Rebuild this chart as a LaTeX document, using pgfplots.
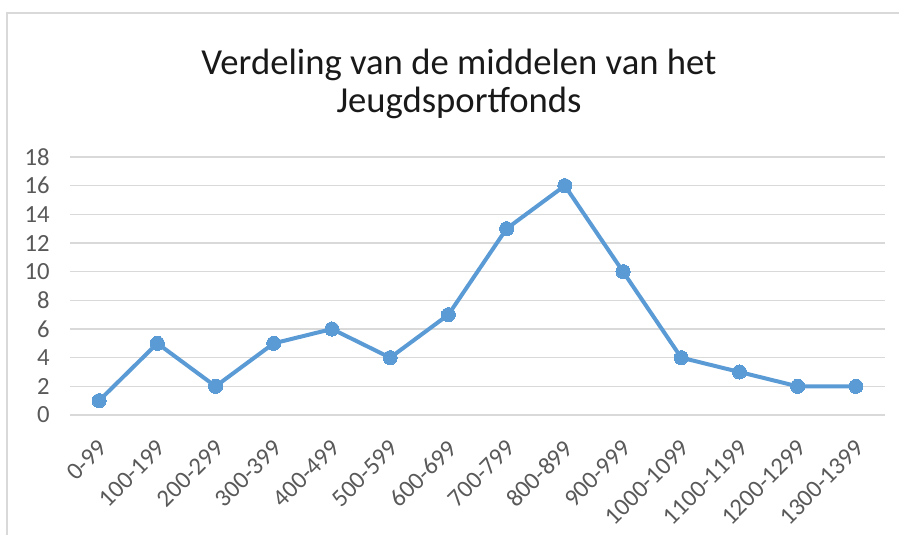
\documentclass[border=0pt]{standalone}
\usepackage{pgfplots}
\pgfplotsset{compat=1.18}
\usepackage{fontspec}
\setmainfont{Carlito}
\definecolor{lineblue}{HTML}{5B9BD5}
\definecolor{tickgray}{HTML}{595959}
\definecolor{gridgray}{HTML}{D9D9D9}
\begin{document}
\begin{tikzpicture}
\path[use as bounding box] (0,0) rectangle (674.25pt,-401.25pt);
\draw[gridgray, line width=1.5pt] (5.25pt,-401.25pt) -- (5.25pt,-9.75pt) -- (674.25pt,-9.75pt);
\node[align=center, font=\fontsize{27.5}{29}\selectfont, text=black!90] at (344.25pt,-63pt) {Verdeling van de middelen van het\\Jeugdsportfonds};
\begin{axis}[
  at={(52.5pt,-311.25pt)}, anchor=south west,
  scale only axis, width=611.25pt, height=193.5pt,
  xmin=-0.5, xmax=13.5, ymin=0, ymax=18,
  ytick={0,2,...,18},
  xtick={0,...,13},
  xticklabels={0-99,100-199,200-299,300-399,400-499,500-599,600-699,700-799,800-899,900-999,1000-1099,1100-1199,1200-1299,1300-1399},
  axis line style={draw=none},
  major tick length=0pt,
  ymajorgrids, grid style={gridgray, line width=1.1pt},
  /pgf/number format/assume math mode=true,
  tick label style={font=\fontsize{18.5}{20}\selectfont, text=tickgray},
  yticklabel style={inner sep=0pt, xshift=-15pt},
  xticklabel style={inner sep=0pt, yshift=-22pt, xshift=3pt, rotate=45, anchor=east},
  clip=false,
]
\addplot[lineblue, line width=3pt, mark=*, mark size=5.3pt, mark options={fill=lineblue, draw=lineblue, line width=0pt}] coordinates {
(0,1) (1,5) (2,2) (3,5) (4,6) (5,4) (6,7) (7,13) (8,16) (9,10) (10,4) (11,3) (12,2) (13,2)};
\end{axis}
\end{tikzpicture}
\end{document}
